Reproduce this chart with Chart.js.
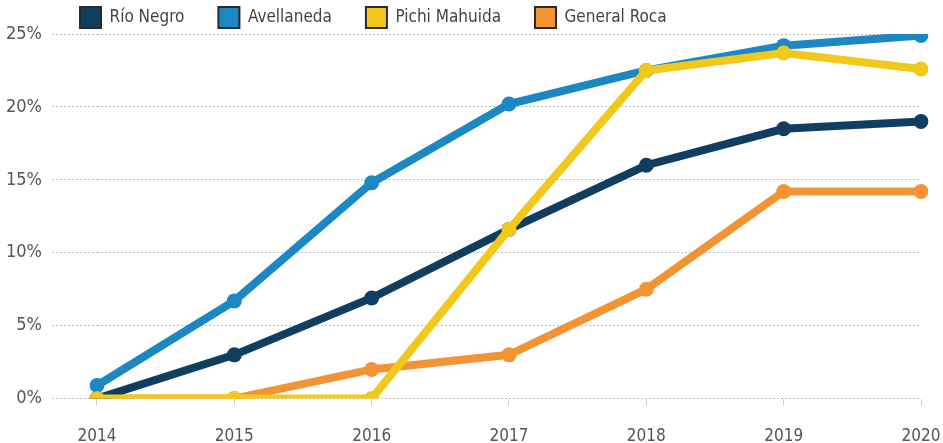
<!DOCTYPE html>
<html><head><meta charset="utf-8">
<script src="https://cdn.jsdelivr.net/npm/chart.js@4.4.1/dist/chart.umd.min.js"></script>
<style>html,body{margin:0;padding:0;background:#fff}#w{width:943px;height:443px}</style>
</head><body><div id="w"><canvas id="c"></canvas></div>
<script>
const years = ['2014','2015','2016','2017','2018','2019','2020'];
const rioNegro = [0, 3.0, 6.9, 11.6, 16.0, 18.5, 19.0];
const avellaneda = [0.9, 6.7, 14.8, 20.2, 22.5, 24.2, 24.9];
const pichiMahuida = [0, 0, 0, 11.6, 22.5, 23.7, 22.6];
const generalRoca = [0, 0, 2.0, 3.0, 7.5, 14.2, 14.2];
const yTicks = [0, 5, 10, 15, 20, 25];

const FONT = "'DejaVu Sans Condensed','Liberation Sans Narrow',sans-serif";
function ds(label, data, color, order){
  return {label, data, borderColor: color, backgroundColor: color, borderWidth: 8,
    pointRadius: 7.5, pointHoverRadius: 7.5, pointBorderWidth: 0, tension: 0, order};
}
const LEG_PAD = 34;
const legendPos = {
  id: 'legendPos',
  beforeLayout(chart){
    const lg = chart.legend;
    if (lg && !lg._wrapped){
      const f = lg.fit;
      lg.fit = function(){ f.call(this); this.height = 34; };
      lg._wrapped = true;
    }
  },
  beforeDraw(chart){
    const lg = chart.legend;
    if (lg){ lg.left = 80 - LEG_PAD; lg.top = 7 - LEG_PAD; }
  }
};
new Chart(document.getElementById('c'), {
  type: 'line',
  data: { labels: years, datasets: [
    ds('Río Negro', rioNegro, '#0f3e60', 2),
    ds('Avellaneda', avellaneda, '#1b88c4', 3),
    ds('Pichi Mahuida', pichiMahuida, '#f2c81c', 0),
    ds('General Roca', generalRoca, '#f29433', 4)
  ]},
  plugins: [legendPos],
  options: {
    responsive: true, maintainAspectRatio: false, animation: false,
    layout: { padding: { left: -4, right: 22, top: 0, bottom: -25 } },
    plugins: {
      tooltip: { enabled: false },
      legend: {
        position: 'top', align: 'start',
        labels: {
          font: { family: FONT, size: 17 }, color: '#444',
          boxWidth: 21, boxHeight: 21, padding: LEG_PAD,
          generateLabels: (chart) => chart.data.datasets.map((d, i) => ({
            text: d.label, fillStyle: d.borderColor, strokeStyle: '#2a2a2a', lineWidth: 2,
            fontColor: '#444', datasetIndex: i, hidden: false
          })),
          sort: (a, b) => a.datasetIndex - b.datasetIndex
        }
      }
    },
    scales: {
      x: {
        offset: false,
        afterFit: (s) => { s.paddingRight = 0; s.paddingLeft = 0; },
        grid: { drawOnChartArea: false, drawTicks: true, tickLength: 7, color: '#d0d0d0' },
        border: { display: false },
        ticks: { font: { family: FONT, size: 17 }, color: '#555', padding: 21, maxRotation: 0 }
      },
      y: {
        min: 0, max: 25,
        afterBuildTicks: (axis) => { axis.ticks = yTicks.map(v => ({ value: v })); },
        grid: { color: '#bdbdbd', lineWidth: 1, tickLength: 45, drawTicks: true, tickBorderDash: [2, 2], tickColor: '#bdbdbd' },
        border: { display: false, dash: [2, 2] },
        ticks: { font: { family: FONT, size: 18 }, color: '#555', padding: 10,
          callback: (v) => v + '%' }
      }
    }
  }
});
</script></body></html>
